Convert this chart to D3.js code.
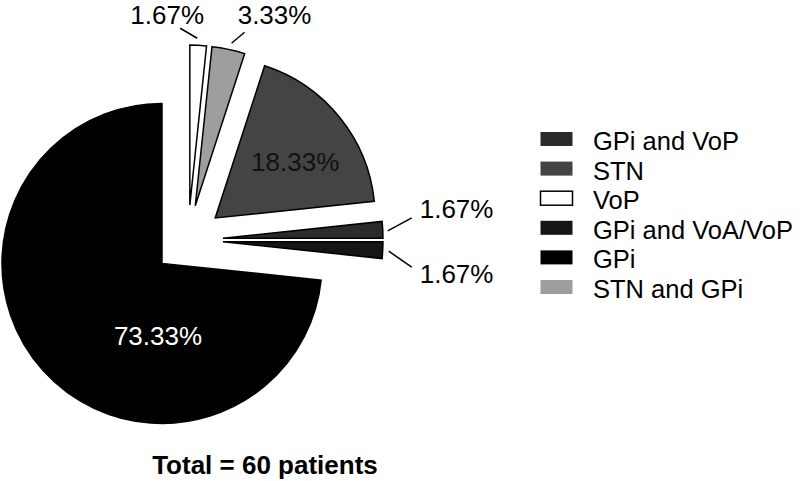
<!DOCTYPE html>
<html>
<head>
<meta charset="utf-8">
<script src="https://cdnjs.cloudflare.com/ajax/libs/d3/7.8.5/d3.min.js"></script>
<style>
  body { margin: 0; background: #fff; }
  text { font-family: "Liberation Sans", Arial, sans-serif; }
</style>
</head>
<body>
<script>
// legend order
const categories = ["GPi and VoP", "STN", "VoP", "GPi and VoA/VoP", "GPi", "STN and GPi"];
const patients = [1, 11, 1, 1, 44, 2];
// clockwise order of slices, starting at 12 o'clock
const sliceOrder = ["VoP", "STN and GPi", "STN", "GPi and VoP", "GPi and VoA/VoP", "GPi"];
const colors = ["#2b2b2b", "#444444", "#ffffff", "#151515", "#000000", "#9e9e9e"];

const width = 800, height = 481;
const cx = 188, cy = 240, radius = 160, explode = 35;

const data = categories.map((c, i) => ({ cat: c, value: patients[i] }));
const total = d3.sum(patients);

const color = d3.scaleOrdinal().domain(categories).range(colors);

const svg = d3.select("body").append("svg")
    .attr("width", width)
    .attr("height", height);

const pie = d3.pie()
    .value(d => d.value)
    .sort((a, b) => sliceOrder.indexOf(a.cat) - sliceOrder.indexOf(b.cat));

const arc = d3.arc().innerRadius(0).outerRadius(radius);

const arcs = pie(data);

// offset of each exploded slice along its mid angle
function shift(d) {
  const m = (d.startAngle + d.endAngle) / 2;
  return [cx + explode * Math.sin(m), cy - explode * Math.cos(m)];
}
function outer(d) {
  const m = (d.startAngle + d.endAngle) / 2;
  const [x, y] = shift(d);
  return [x + radius * Math.sin(m), y - radius * Math.cos(m)];
}

const pct = d => (d.data.value / total * 100).toFixed(2) + "%";

svg.selectAll("path.slice")
    .data(arcs)
    .enter().append("path")
    .attr("class", "slice")
    .attr("transform", d => `translate(${shift(d)})`)
    .attr("d", arc)
    .attr("fill", d => color(d.data.cat))
    .attr("stroke", "#000")
    .attr("stroke-width", 1.5)
    .attr("stroke-linejoin", "miter");

// labels inside big slices (offset from slice tip)
const inside = {
  "STN": { dx: 80, dy: -47, fill: "#111" },
  "GPi": { dx: -4, dy: 82, fill: "#fff" }
};
// labels outside small slices (offset from outer arc midpoint)
const outside = {
  "VoP":             { tx: -31, ty: -21, anchor: "middle", l1: [-1, -7], l2: [-18, -17] },
  "STN and GPi":     { tx: 46,  ty: -25, anchor: "middle", l1: [3, -6],  l2: [16, -17] },
  "GPi and VoP":     { tx: 37,  ty: -12, anchor: "start",  l1: [5, 1],   l2: [29, -12] },
  "GPi and VoA/VoP": { tx: 37,  ty: 33,  anchor: "start",  l1: [6, 1],   l2: [29, 17] }
};

arcs.filter(d => inside[d.data.cat]).forEach(d => {
  const o = inside[d.data.cat];
  const [x, y] = shift(d);
  svg.append("text")
      .attr("x", x + o.dx)
      .attr("y", y + o.dy)
      .attr("text-anchor", "middle")
      .attr("font-size", 26)
      .attr("fill", o.fill)
      .text(pct(d));
});

arcs.filter(d => outside[d.data.cat]).forEach(d => {
  const o = outside[d.data.cat];
  const [px, py] = outer(d);
  svg.append("line")
      .attr("x1", px + o.l1[0]).attr("y1", py + o.l1[1])
      .attr("x2", px + o.l2[0]).attr("y2", py + o.l2[1])
      .attr("stroke", "#000")
      .attr("stroke-width", 1.5);
  svg.append("text")
      .attr("x", px + o.tx)
      .attr("y", py + o.ty)
      .attr("text-anchor", o.anchor)
      .attr("font-size", 26)
      .attr("fill", "#000")
      .text(pct(d));
});

// legend
const legend = svg.selectAll(".legend")
    .data(categories)
    .enter().append("g")
    .attr("class", "legend")
    .attr("transform", (d, i) => `translate(540, ${150 + i * 29.6})`);

legend.append("rect")
    .attr("x", 0.5)
    .attr("y", -18)
    .attr("width", 32)
    .attr("height", 14)
    .attr("fill", d => color(d))
    .attr("stroke", d => d === "VoP" ? "#000" : "none")
    .attr("stroke-width", 1.5);

legend.append("text")
    .attr("x", 53)
    .attr("y", 0)
    .attr("font-size", 25.5)
    .attr("fill", "#000")
    .text(d => d);

svg.append("text")
    .attr("x", 265)
    .attr("y", 474)
    .attr("text-anchor", "middle")
    .attr("font-size", 26)
    .attr("font-weight", "bold")
    .text(`Total = ${total} patients`);
</script>
</body>
</html>
